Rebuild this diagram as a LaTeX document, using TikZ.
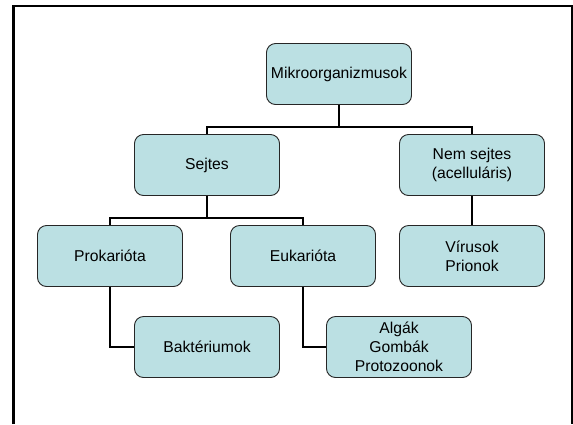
\documentclass[tikz,border=0pt]{standalone}
\usepackage{fontspec}
\setmainfont{Liberation Sans}
\usepackage{xcolor}
\definecolor{boxfill}{RGB}{187,224,227}
\usetikzlibrary{positioning}

\begin{document}
\begin{tikzpicture}[
    x=1pt, y=-1pt,
    node distance=91pt,
    orgbox/.style={rectangle, rounded corners=9pt, minimum width=145pt, minimum height=61pt, text centered, align=center, draw=black!85, line width=0.9pt, fill=boxfill, font=\fontsize{15.7}{19}\selectfont},
    link/.style={line width=1.6pt}
]
    \useasboundingbox (0,0) rectangle (573,424);
    % frame
    \draw[line width=2.6pt] (13.5,424) -- (13.5,6) -- (573,6);
    \draw[line width=1.2pt] (572,6) -- (572,424);

    \node (mikro) [orgbox] at (339,74) {Mikroorganizmusok};
    \node (sejtes) [orgbox, below of=mikro, xshift=-132pt] {Sejtes};
    \node (nemsejtes) [orgbox, below of=mikro, xshift=133pt] {Nem sejtes\\(acelluláris)};
    \node (prokariota) [orgbox, below of=sejtes, xshift=-97pt] {Prokarióta};
    \node (eukariota) [orgbox, below of=sejtes, xshift=96pt] {Eukarióta};
    \node (virusok) [orgbox, below of=nemsejtes] {Vírusok\\Prionok};
    \node (bakterium) [orgbox, below of=prokariota, xshift=97pt] {Baktériumok};
    \node (algak) [orgbox, below of=eukariota, xshift=96pt] {Algák\\Gombák\\Protozoonok};

    \draw [link] (mikro.south) -- ++(0,22) -| (sejtes.north);
    \draw [link] (mikro.south) -- ++(0,22) -| (nemsejtes.north);
    \draw [link] (sejtes.south) -- ++(0,22) -| (prokariota.north);
    \draw [link] (sejtes.south) -- ++(0,22) -| (eukariota.north);
    \draw [link] (nemsejtes.south) -- (virusok.north);
    \draw [link] (prokariota.south) |- (bakterium.west);
    \draw [link] (eukariota.south) |- (algak.west);
\end{tikzpicture}
\end{document}
